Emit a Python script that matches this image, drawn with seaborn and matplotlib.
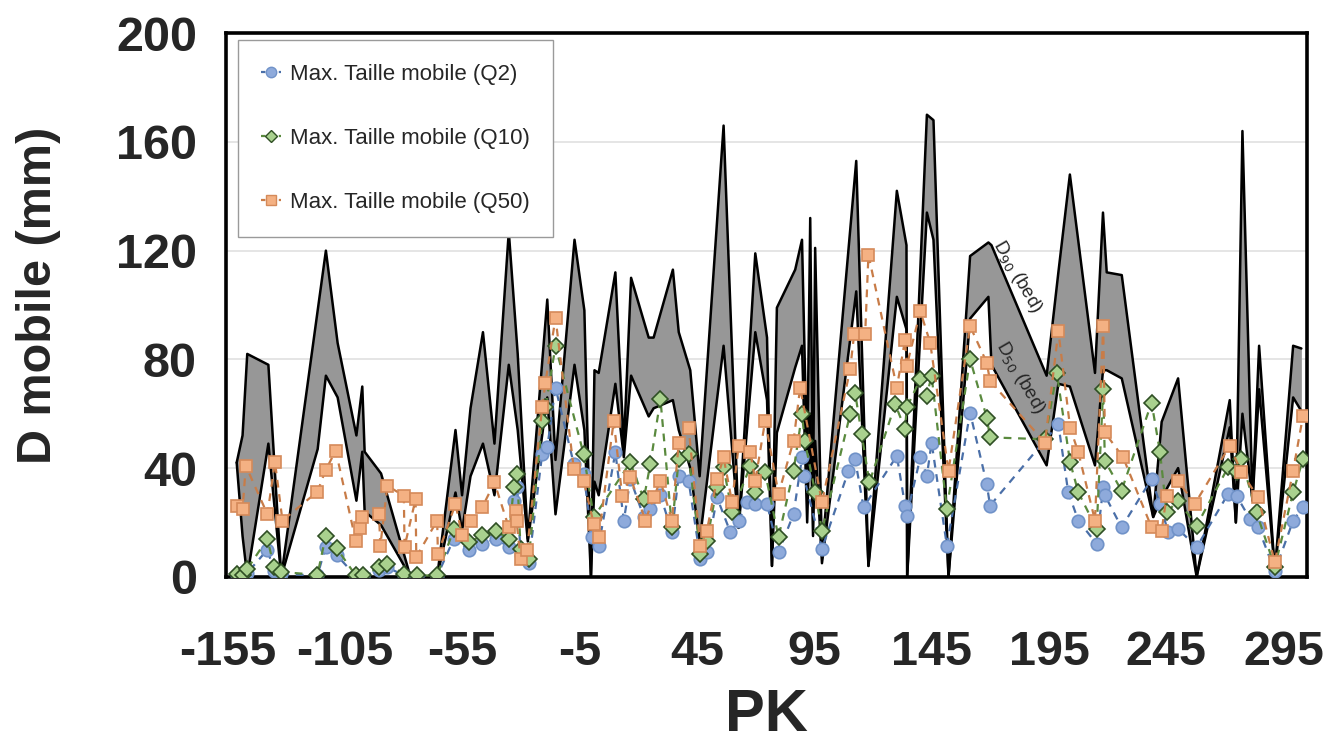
import numpy as np
import pandas as pd
import matplotlib
matplotlib.use("Agg")
import matplotlib.pyplot as plt
import seaborn as sns

# --- bed grain size envelope (D90 upper, D50 lower) ---
bed_pk = [-151, -148.5, -146.5, -137.5, -132, -116.5, -113, -108, -100, -97.5, -96.5,
          -89.5, -77, -65.6, -57.8, -55, -51.4, -46.1, -41.2, -35.1, -31.3, -27,
          -18.7, -15.2, -7.1, -2.9, -0.1, 1.4, 3.2, 10.3, 13.9, 17, 24.5, 26.6,
          34.8, 37.3, 42.2, 46.2, 56.4, 62.8, 69.9, 74.9, 77, 79.1, 86.9, 89.8,
          92, 93.3, 94.5, 95.4, 98.3, 112.9, 118.1, 130.2, 134.3, 134.6, 143,
          145.8, 152.2, 161.4, 169.2, 170.5, 194, 199, 203.9, 214.6, 218, 219.6,
          226, 239.4, 243, 250, 257.9, 272, 274.6, 277.4, 281.7, 284.5, 291.2,
          299, 302.5]
d90 = [42, 52, 82, 78, 0, 98, 120, 86, 52, 70, 46,
       38, 0, 0, 54, 30, 62, 90, 49, 127, 82, 14,
       102, 43, 124, 98, 0, 76, 75, 112, 48, 110, 88, 88,
       113, 90, 76, 37, 166, 18, 119, 88, 4, 99, 113, 124,
       40, 132, 30, 121, 9, 153, 4, 142, 122, 0, 170,
       168, 0, 118, 123, 122, 74, 112, 148, 75, 134, 112,
       111, 22, 57, 73, 0, 65, 20, 164, 28, 85, 2,
       85, 84]
d50 = [42, 15, 0, 49, 0, 47, 74, 66, 28, 46, 24,
       19, 0, 0, 31, 17, 37, 49, 30, 78, 54, 13,
       66, 23, 78, 54, 0, 35, 30, 71, 44, 74, 59, 62,
       65, 54, 40, 13, 85, 18, 90, 65, 4, 53, 77, 85,
       20, 60, 15, 50, 5, 105, 4, 103, 91, 0, 134,
       124, 0, 95, 103, 78, 41, 71, 70, 41, 76, 76,
       73, 22, 29, 40, 0, 55, 20, 60, 28, 69, 2,
       66, 61]

# --- max mobile size, Q2 ---
q2_pk = [-150.7, -148.5, -146.4, -137.9, -135.1, -132.2, -116.6, -113.1, -108.4, -100.3,
         -97, -90.4, -86.8, -79.8, -74.1, -65.6, -58.5, -52.1, -46.4, -40.7, -35.1,
         -33, -31.5, -30.1, -26.6, -20.9, -18.7, -15.2, -7.4, -3.2, 0.3, 3.2, 10.3,
         13.9, 16.7, 22.4, 25.2, 29.5, 34.4, 37.3, 41.5, 46.5, 49.3, 53.6, 59.3, 62.8,
         66.4, 69.9, 74.9, 79.8, 86.2, 89.8, 90.5, 98.3, 109.6, 112.4, 116, 130.2,
         133.7, 134.4, 140.2, 143, 145, 151.5, 161.4, 168.5, 169.9, 199, 203.2, 207.5,
         215.3, 218.1, 218.8, 225.9, 238.7, 242.3, 245.8, 250, 257.9, 271.3, 274.9,
         280.6, 284.1, 291.2, 299, 303.2]
q2 = [0.5, 0.3, 1.5, 10, 2, 1, 0.5, 11, 8, 0.3,
      0.3, 2.5, 3.5, 0.5, 0.3, 0.3, 14, 10, 12, 14, 11,
      28, 33, 8, 5, 45, 47.6, 69.6, 41.5, 38, 14.6, 11.5, 45.8,
      20.7, 36, 22, 25, 30, 16.4, 37.2, 35.3, 6.6, 9, 29.2, 16.4, 20.7,
      27.4, 26.8, 26.8, 9, 23.1, 43.9, 37, 10.3, 39, 43.3, 25.6, 44.5,
      26.2, 22.5, 43.9, 37.2, 49.4, 11.5, 60.4, 34.1, 26.2, 56.1, 31.1, 20.7,
      12.1, 32.9, 30, 18.2, 36, 26.8, 16.4, 17.6, 10.9, 30.5, 29.8,
      21.3, 18.2, 2, 20.7, 25.6]

# --- max mobile size, Q10 ---
q10_pk = [-150.7, -148.5, -146.4, -137.9, -135.1, -132.2, -116.6, -113.1, -108.4, -100.3,
          -97, -90.4, -86.8, -79.8, -74.1, -65.6, -58.5, -52.1, -46.4, -40.7, -35.1,
          -33, -31.5, -30.1, -26.6, -20.9, -19.5, -15.2, -3.2, 1.1, 16.7, 22.4, 25.2,
          29.5, 34.4, 37.3, 41.5, 46.5, 49.3, 53.6, 56.4, 60, 67.8, 69.9, 74.1, 79.8,
          86.2, 89.8, 91, 95.4, 98.3, 110.3, 112.4, 115.2, 118.5, 129.5, 133.7, 134.4,
          140.2, 142.9, 145, 151.5, 161.4, 168.5, 169.9, 193.3, 198.3, 204, 207.5,
          215.3, 218.1, 218.8, 225.9, 238.7, 242.3, 245.1, 250, 257.9, 271.3, 274.9,
          277, 283.4, 291.2, 299, 303.2]
q10 = [1, 0.5, 3, 14, 3.5, 1.8, 0.7, 15, 10.5, 0.5,
       0.5, 3.5, 4.8, 1, 0.5, 0.5, 17.6, 12.7, 15.2, 17, 14,
       32.9, 37.8, 10.3, 6.6, 57.4, 62.3, 84.9, 45.1, 21.9, 42.1, 28.6, 41.5,
       65.3, 18.2, 43.3, 45.1, 8.4, 13.3, 32.9, 40.3, 23.7, 40.8, 31.1, 38.4, 14.6,
       39, 59.8, 50, 31.1, 17, 59.8, 67.8, 52.5, 34.7, 63.5, 54.3, 62.3,
       72.7, 66.5, 73.9, 25, 80, 58.6, 51.3, 50.6, 75.1, 42.1, 31.1,
       17.6, 69, 42.7, 31.7, 64.1, 45.8, 23.7, 28, 18.8, 40.3, 38.4,
       43.3, 23.7, 3.6, 31.1, 43.3]

# --- max mobile size, Q50 ---
q50_pk = [-150.7, -148.5, -147.1, -137.9, -134.7, -131.5, -116.6, -113.1, -108.8, -100.3,
          -98.5, -97.5, -90.4, -89.8, -86.8, -79.8, -79.5, -74.8, -74.5, -65.6, -65.3,
          -57.8, -55, -51.4, -46.4, -41.2, -35.1, -32.2, -31.8, -30.1, -27.3, -20.9,
          -19.5, -15.2, -7.4, -3.2, 1.1, 3.2, 9.6, 13.2, 16.7, 23.1, 26.6, 29.5, 34.4,
          37.3, 41.5, 46.5, 49.3, 53.6, 56.4, 60, 62.8, 67.8, 69.9, 74.1, 79.8, 86.2,
          89, 98.3, 110.3, 112, 116.7, 118.1, 130.2, 133.7, 134.4, 140.2, 144.4, 152.2,
          161.4, 168.5, 169.9, 193.3, 199, 204, 207.5, 214.6, 218.1, 218.8, 226.6,
          238.7, 243, 245.1, 250, 257.1, 272, 277, 284.1, 291.2, 299, 303.2]
q50 = [26.2, 25, 40.8, 23, 42.3, 20.7, 31.3, 39.3, 46.4, 13.3,
       18, 21.9, 23.1, 11.5, 33.5, 29.8, 11, 28.6, 7.3, 20.7, 8.4,
       26.8, 15.2, 20.7, 25.6, 34.7, 18.2, 24.3, 20.7, 6.6, 9.7, 62.3,
       71.4, 95.3, 39.6, 35.3, 19.4, 14.6, 57.4, 29.8, 36.6, 20.7, 29.2, 35.3, 20.7,
       49.4, 54.9, 11.5, 17, 36, 43.9, 27.4, 48.2, 45.8, 35.3, 57.4, 30.5, 50,
       69.6, 27.4, 76.3, 89.2, 89.2, 118.5, 69.6, 87.3, 77.5, 97.7, 86.1, 39,
       92.2, 78.8, 72, 49.4, 90.4, 54.9, 45.8, 20.7, 92.2, 53.1, 43.9,
       18.2, 17, 29.8, 35.3, 26.8, 48.2, 38.4, 29.2, 5.4, 39, 59.2]

x_ticks = [-155, -105, -55, -5, 45, 95, 145, 195, 245, 295]
y_ticks = [0, 40, 80, 120, 160, 200]

sns.set_theme(style="white")
plt.rcParams['font.family'] = ['Liberation Sans', 'DejaVu Sans']

fig = plt.figure(figsize=(13.38, 7.54), dpi=100)
ax = fig.add_axes([0.169, 0.235, 0.808, 0.721])

for y in y_ticks[1:-1]:
    ax.axhline(y, color='#e3e3e3', lw=1.3, zorder=0)

bed = pd.DataFrame({'PK': bed_pk, 'D90': d90, 'D50': d50})
ax.fill_between(bed['PK'], bed['D50'], bed['D90'], color='#979797', lw=0, zorder=1)
sns.lineplot(data=bed, x='PK', y='D90', ax=ax, color='black', lw=1.8, sort=False, zorder=2)
sns.lineplot(data=bed, x='PK', y='D50', ax=ax, color='black', lw=1.8, sort=False, zorder=2)

series = [
    (q2_pk, q2, 'Max. Taille mobile (Q2)', 'o', 9, '#8eaadb', '#7092c8', '#4a6fa8'),
    (q10_pk, q10, 'Max. Taille mobile (Q10)', 'D', 8, '#a9d18e', '#2f4f24', '#5a8a3e'),
    (q50_pk, q50, 'Max. Taille mobile (Q50)', 's', 9, '#f4b183', '#d58a5a', '#c87c48'),
]
handles = []
for pk, vals, label, mk, ms, fc, ec, lc in series:
    df = pd.DataFrame({'PK': pk, 'val': vals})
    sns.lineplot(data=df, x='PK', y='val', ax=ax, color=lc, lw=1.6, sort=False,
                 linestyle=(0, (3.5, 3)), marker=mk, markersize=ms,
                 markerfacecolor=fc, markeredgecolor=ec, markeredgewidth=1.2, zorder=3)
    h, = ax.plot([], [], color=lc, lw=1.6, linestyle=(0, (2, 2)), marker=mk,
                 markersize=ms - 1.5, markerfacecolor=fc, markeredgecolor=ec,
                 markeredgewidth=1.0, label=label)
    handles.append(h)

ax.set_xlim(-155.5, 305)
ax.set_ylim(0, 200)
ax.set_xticks(x_ticks)
ax.set_yticks(y_ticks)

tick_font = dict(weight='bold', size=35)
ax.set_xticklabels([str(t) for t in x_ticks], fontdict=tick_font)
ax.set_yticklabels([str(t) for t in y_ticks], fontdict=tick_font)
ax.tick_params(axis='x', direction='out', length=12, width=2.5, pad=26, color='black')
ax.tick_params(axis='y', direction='out', length=12, width=2.5, pad=9, color='black')
for s in ax.spines.values():
    s.set_color('black')
    s.set_linewidth(2.6)

ax.set_xlabel('PK', fontsize=43, fontweight='bold')
ax.xaxis.set_label_coords(0.5, -0.205)
ax.xaxis.label.set_va('top')
ax.set_ylabel('D mobile (mm)', fontsize=35, fontweight='bold')
ax.yaxis.set_label_coords(-0.153, 0.518)

leg = ax.legend(handles=handles, loc='upper left', bbox_to_anchor=(0.011, 0.987),
                borderaxespad=0, fontsize=16, labelspacing=1.95, handlelength=0.9,
                handletextpad=0.4, borderpad=1.05, fancybox=False, framealpha=1,
                edgecolor='#9a9a9a')
leg.get_frame().set_linewidth(1.0)

ax.text(181.4, 110.5, r'D$_{90}$ (bed)', rotation=-60, fontsize=13.5, ha='center',
        va='center', zorder=4)
ax.text(182.6, 73.4, r'D$_{50}$ (bed)', rotation=-60, fontsize=13.5, ha='center',
        va='center', zorder=4)

fig.savefig('out.png', dpi=100)
